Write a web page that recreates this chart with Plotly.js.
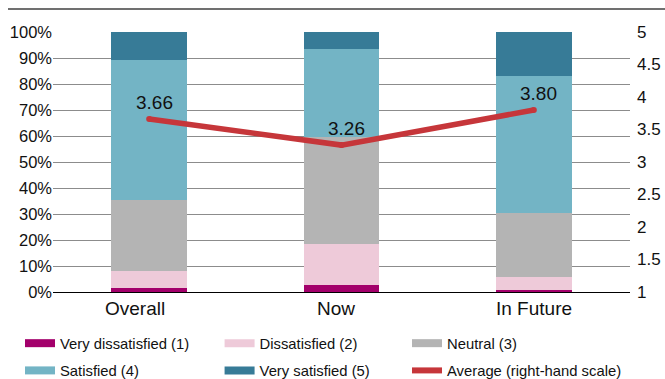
<!DOCTYPE html>
<html>
<head>
<meta charset="utf-8">
<script src="https://cdn.plot.ly/plotly-3.0.1.min.js"></script>
<style>
  html, body { margin: 0; padding: 0; background: #ffffff; }
  #chart { width: 665px; height: 379px; }
</style>
</head>
<body>
<div id="chart"></div>
<script>
// ---- data ----
const categories = ['Overall', 'Now', 'In Future'];
const veryDissatisfied = [1.4, 2.7, 0.9];
const dissatisfied = [6.8, 15.8, 4.8];
const neutral = [27.2, 41.0, 24.6];
const satisfied = [53.8, 34.0, 52.8];
const verySatisfied = [10.8, 6.5, 16.9];
const average = [3.66, 3.26, 3.80];
const averageLabels = ['3.66', '3.26', '3.80'];
const seriesNames = ['Very dissatisfied (1)', 'Dissatisfied (2)', 'Neutral (3)',
                     'Satisfied (4)', 'Very satisfied (5)', 'Average (right-hand scale)'];

// ---- styles ----
const colors = ['#a3006b', '#eecad9', '#b4b4b4', '#73b4c5', '#377b97'];
const red = '#c6363a';
const sansFont = 'Liberation Sans, Arial, Helvetica, sans-serif';
const narrowFont = 'Liberation Sans Narrow, Arial Narrow, Liberation Sans, Arial, sans-serif';
const catLabelShift = [-14, -6, 0];

const barSeries = [veryDissatisfied, dissatisfied, neutral, satisfied, verySatisfied];
const traces = [];
barSeries.forEach((vals, i) => {
  traces.push({
    type: 'bar', x: categories, y: vals, name: seriesNames[i],
    marker: { color: colors[i], line: { width: 0 } },
    showlegend: false, hoverinfo: 'skip'
  });
});

traces.push({
  type: 'scatter', x: categories, y: average, yaxis: 'y2',
  mode: 'lines+markers',
  line: { color: red, width: 5.5 },
  marker: { color: red, size: 6 },
  name: seriesNames[5], showlegend: false, hoverinfo: 'skip', cliponaxis: false
});

// legend entries (column layout: 3 legends with 2 rows each)
const legendCols = ['legend', 'legend2', 'legend3', 'legend', 'legend2', 'legend3'];
const legendColors = colors.concat([red]);
const legendOrder = [0, 3, 1, 4, 2, 5];
legendOrder.forEach((idx) => {
  traces.push({
    type: 'scatter', x: [null], y: [null], mode: 'lines',
    name: seriesNames[idx], legend: legendCols[idx], legendgroup: 'g' + idx,
    line: { color: legendColors[idx], width: idx === 5 ? 6 : 8 },
    showlegend: true, hoverinfo: 'skip'
  });
});

const legendBase = {
  orientation: 'v', traceorder: 'grouped', yanchor: 'top', xanchor: 'left',
  y: -0.1348, tracegroupgap: 5, bgcolor: 'rgba(0,0,0,0)', borderwidth: 0,
  font: { family: narrowFont, size: 14.8, color: '#111111' }
};

const annotations = [];
categories.forEach((c, i) => {
  annotations.push({
    xref: 'x', yref: 'paper', x: c, y: 0, yanchor: 'middle', xanchor: 'center',
    yshift: -16.5, xshift: catLabelShift[i], showarrow: false, text: c,
    font: { family: sansFont, size: 19, color: '#111111' }
  });
  annotations.push({
    xref: 'x', yref: 'y2', x: c, y: average[i], yanchor: 'middle', xanchor: 'center',
    yshift: 16.5, xshift: 5, showarrow: false, text: averageLabels[i],
    font: { family: sansFont, size: 19, color: '#111111' }
  });
});

const layout = {
  width: 665, height: 379,
  margin: { l: 53, r: 35, t: 32, b: 87, pad: 0, autoexpand: false },
  paper_bgcolor: '#ffffff', plot_bgcolor: '#ffffff',
  barmode: 'stack', bargap: 0.605,
  font: { family: sansFont, color: '#111111' },
  xaxis: {
    type: 'category', showgrid: false, showline: true, linecolor: '#000000', linewidth: 1,
    ticks: '', showticklabels: false, fixedrange: true
  },
  yaxis: {
    range: [0, 100], dtick: 10, ticksuffix: '%', showgrid: true, gridcolor: '#8c8c8c', gridwidth: 1,
    zeroline: true, zerolinecolor: '#000000', zerolinewidth: 1, showline: false, ticks: '',
    tickfont: { family: sansFont, size: 16.5, color: '#111111' }, fixedrange: true
  },
  yaxis2: {
    overlaying: 'y', side: 'right', range: [1, 5], dtick: 0.5, showgrid: false,
    zeroline: false, showline: false, ticks: '', ticklabelstandoff: 6,
    tickfont: { family: sansFont, size: 17, color: '#111111' }, fixedrange: true
  },
  legend: Object.assign({}, legendBase, { x: -0.0572 }),
  legend2: Object.assign({}, legendBase, { x: 0.2887 }),
  legend3: Object.assign({}, legendBase, { x: 0.6135 }),
  annotations: annotations,
  shapes: [{
    type: 'line', xref: 'paper', yref: 'paper',
    x0: -0.078, x1: 1.0607, y0: 1.0885, y1: 1.0885,
    line: { color: '#404040', width: 1.5 }
  }],
  showlegend: true
};

Plotly.newPlot('chart', traces, layout, { displayModeBar: false, staticPlot: true });
</script>
</body>
</html>
